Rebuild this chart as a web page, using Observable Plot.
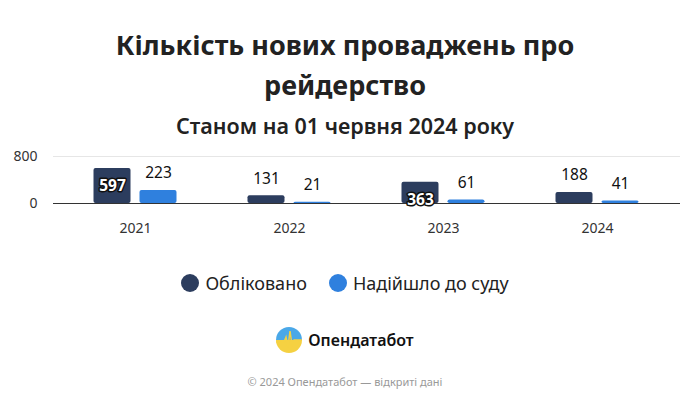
<!DOCTYPE html>
<html><head><meta charset="utf-8">
<script src="https://cdn.jsdelivr.net/npm/d3@7"></script>
<script src="https://cdn.jsdelivr.net/npm/@observablehq/plot@0.6"></script>
<style>
body{margin:0;background:#fff;font-family:"Noto Sans",sans-serif;width:690px;}
#title{text-align:center;font-weight:700;font-size:27px;line-height:40px;color:#222;margin-top:25px;}
#sub{text-align:center;font-size:21.5px;font-weight:600;color:#222;margin-top:6px;height:30px;line-height:30px;}
#chart{height:97px;margin-top:5px}
#legend{display:flex;justify-content:center;gap:22px;font-size:18px;color:#222;margin-top:28px;align-items:center;}
#legend span.i{display:flex;align-items:center;gap:6px}
#legend span.c{width:18px;height:18px;border-radius:50%;display:inline-block}
#logo{display:flex;justify-content:center;align-items:center;gap:6px;margin-top:32px;font-weight:600;font-size:16px;color:#111}
#cap{text-align:center;font-size:11px;color:#999;margin-top:21px}
</style></head><body>
<div id="title">Кількість нових проваджень про<br>рейдерство</div>
<div id="sub">Станом на 01 червня 2024 року</div>
<div id="chart"></div>
<div id="legend"></div>
<div id="logo"><svg width="26" height="26" viewBox="0 0 26 26"><defs><clipPath id="cc"><circle cx="13" cy="13" r="13"/></clipPath></defs><g clip-path="url(#cc)"><rect width="26" height="13" fill="#4aa8e8"/><rect y="13" width="26" height="13" fill="#f5d142"/><polyline points="0,15 8,15 10,10 12,20 14,4 16,18 18,13 26,13" fill="none" stroke="#f5d142" stroke-width="1.5"/></g></svg><span>Опендатабот</span></div>
<div id="cap">© 2024 Опендатабот — відкриті дані</div>
<script>
const years = ["2021","2022","2023","2024"];
const seriesNames = ["Обліковано","Надійшло до суду"];
const registered = [597,131,363,188];
const toCourt = [223,21,61,41];
const colors = ["#2c3d5e","#2f80de"];
const yTicks = [0,800];

const dark = years.map((y,i)=>({year:y, series:seriesNames[0], value:registered[i]}));
const blue = years.map((y,i)=>({year:y, series:seriesNames[1], value:toCourt[i]}));
const insideMid = new Set(["2021"]);
const insideBase = new Set(["2023"]);
const darkAbove = dark.filter(d=>!insideMid.has(d.year)&&!insideBase.has(d.year));

const plot = Plot.plot({
  width:690, height:97,
  marginTop:10, marginBottom:40, marginLeft:58, marginRight:16,
  style:{fontFamily:"Noto Sans, sans-serif", fontSize:"14px", color:"#333", overflow:"visible"},
  x:{domain:years, padding:0, label:null, tickSize:0, tickPadding:20},
  y:{domain:[0,800], ticks:yTicks, label:null, tickSize:0, tickPadding:21},
  color:{domain:seriesNames, range:colors},
  marks:[
    Plot.ruleY([800],{stroke:"#e6e6e6", insetLeft:-5, insetRight:-6}),
    Plot.barY(dark,{x:"year", y:"value", fill:"series", insetLeft:58.5, insetRight:58.5, dx:-23, rx:2}),
    Plot.barY(blue,{x:"year", y:"value", fill:"series", insetLeft:58.5, insetRight:58.5, dx:23, rx:2}),
    Plot.ruleY([0],{stroke:"#333", strokeWidth:1.2, insetLeft:-5, insetRight:-6}),
    Plot.text(darkAbove,{x:"year", y:"value", text:d=>String(d.value), dx:-23, dy:-17, fill:"#111", fontSize:15.5}),
    Plot.text(blue,{x:"year", y:"value", text:d=>String(d.value), dx:23, dy:-17, fill:"#111", fontSize:15.5}),
    Plot.text(dark.filter(d=>insideMid.has(d.year)),{x:"year", y:d=>d.value/2, text:d=>String(d.value), dx:-23, fill:"white", stroke:"#111", strokeWidth:3, paintOrder:"stroke", fontSize:15.5, fontWeight:700}),
    Plot.text(dark.filter(d=>insideBase.has(d.year)),{x:"year", y:0, text:d=>String(d.value), dx:-23, dy:-3, fill:"white", stroke:"#111", strokeWidth:3, paintOrder:"stroke", fontSize:15.5, fontWeight:700})
  ]
});
document.getElementById("chart").appendChild(plot);
const lg = document.getElementById("legend");
seriesNames.forEach((s,i)=>{
  const e=document.createElement("span");e.className="i";
  e.innerHTML=`<span class="c" style="background:${colors[i]}"></span>${s}`;
  lg.appendChild(e);
});
</script>
</body></html>
